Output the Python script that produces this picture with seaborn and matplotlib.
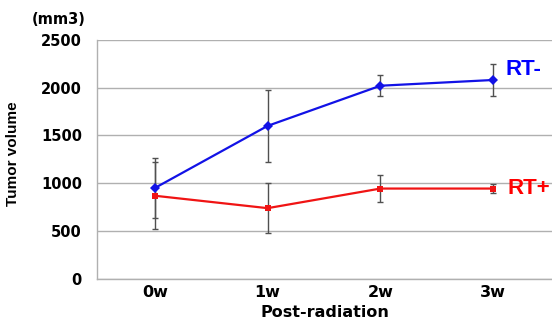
import matplotlib
matplotlib.use("Agg")
import matplotlib.pyplot as plt
import seaborn as sns
import pandas as pd
import numpy as np

weeks = ["0w", "1w", "2w", "3w"]
rt_minus = [950, 1600, 2020, 2080]
rt_minus_err = [310, 380, 110, 170]
rt_plus = [870, 740, 945, 945]
rt_plus_err = [350, 260, 145, 50]

df = pd.DataFrame({
    "week": weeks * 2,
    "volume": rt_minus + rt_plus,
    "group": ["RT-"] * 4 + ["RT+"] * 4,
})

sns.set_style("white")
plt.rcParams["font.family"] = ["DejaVu Sans"]
plt.rcParams["text.color"] = "black"
plt.rcParams["axes.labelcolor"] = "black"
plt.rcParams["xtick.color"] = "black"
plt.rcParams["ytick.color"] = "black"

fig = plt.figure(figsize=(5.52, 3.21), dpi=100)
ax = fig.add_axes([0.176, 0.131, 0.824, 0.745])

xpos = np.arange(len(weeks))
ax.errorbar(xpos, rt_minus, yerr=rt_minus_err, fmt="none", ecolor="#505050",
            elinewidth=1.0, capsize=2.5, capthick=1.0, zorder=2)
ax.errorbar(xpos, rt_plus, yerr=rt_plus_err, fmt="none", ecolor="#505050",
            elinewidth=1.0, capsize=2.5, capthick=1.0, zorder=2)

sns.lineplot(data=df, x="week", y="volume", hue="group", style="group",
             palette={"RT-": "#1212e6", "RT+": "#f01414"},
             markers={"RT-": "D", "RT+": "s"}, dashes=False,
             markersize=5, markeredgewidth=0, linewidth=1.6,
             legend=False, ax=ax, zorder=3)

ax.set_ylim(0, 2500)
ax.set_xlim(-0.51, 3.52)
ax.set_yticks([0, 500, 1000, 1500, 2000, 2500])
ax.yaxis.grid(True, color="#b0b0b0", linewidth=1.0)
ax.set_axisbelow(True)
for s in ["top", "right"]:
    ax.spines[s].set_visible(False)
for s in ["left", "bottom"]:
    ax.spines[s].set_color("#b0b0b0")
    ax.spines[s].set_linewidth(1.0)
ax.tick_params(axis="y", length=0, labelsize=10.5, pad=11)
ax.tick_params(axis="x", length=0, labelsize=11.5, pad=4)
for lab in ax.get_xticklabels() + ax.get_yticklabels():
    lab.set_fontweight("bold")

ax.set_xlabel("Post-radiation", fontsize=11.5, fontweight="bold", labelpad=4)
ax.set_ylabel("Tumor volume", fontsize=11, fontweight="bold",
              family=["Liberation Sans", "DejaVu Sans"])
ax.yaxis.set_label_coords(-0.169, 0.525)

ax.text(3.11, rt_minus[-1] + 105, "RT-", color="#0000ff", fontsize=16,
        fontweight="bold", va="center", ha="left", clip_on=False,
        family=["Liberation Sans", "DejaVu Sans"])
ax.text(3.13, rt_plus[-1], "RT+", color="#ff0000", fontsize=16,
        fontweight="bold", va="center", ha="left", clip_on=False,
        family=["Liberation Sans", "DejaVu Sans"])
fig.text(0.058, 0.94, "(mm3)", fontsize=10.5, fontweight="bold", va="center")

fig.savefig("out.png", dpi=100)
